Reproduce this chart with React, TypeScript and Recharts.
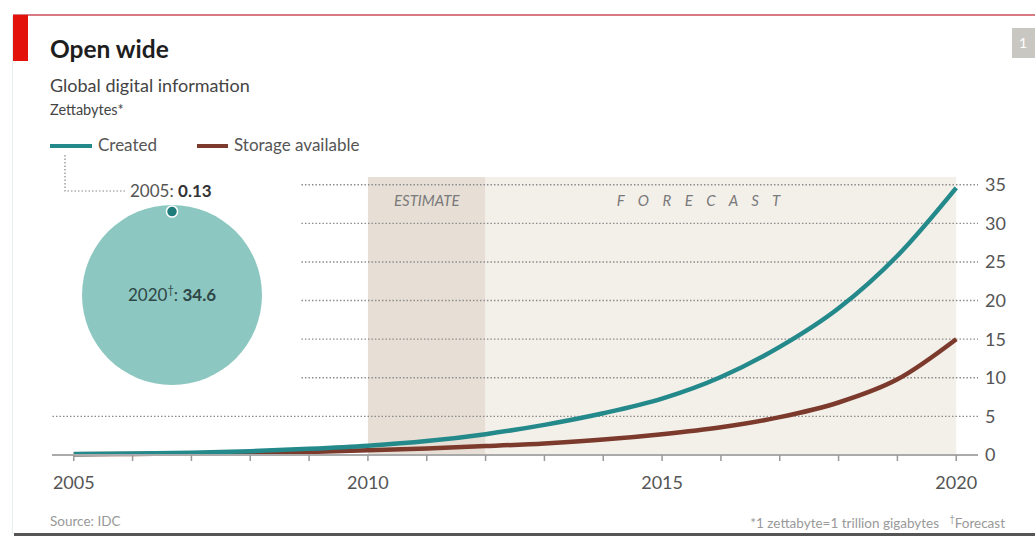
import React from 'react';
import {
  ComposedChart, Line, XAxis, YAxis, ReferenceArea, ReferenceLine,
} from 'recharts';

// values, zettabytes
const years = [2005, 2006, 2007, 2008, 2009, 2010, 2011, 2012, 2013, 2014, 2015, 2016, 2017, 2018, 2019, 2020];
const created = [0.13, 0.2, 0.3, 0.5, 0.8, 1.2, 1.8, 2.7, 3.9, 5.4, 7.3, 10.1, 14.0, 19.0, 25.8, 34.6];
const storage = [0.1, 0.14, 0.2, 0.28, 0.4, 0.6, 0.85, 1.15, 1.5, 2.0, 2.7, 3.6, 4.9, 6.8, 9.8, 15.0];
const yTicks = [0, 5, 10, 15, 20, 25, 30, 35];
const labelledYears = [2005, 2010, 2015, 2020];
const estimateSpan = [2010, 2012];
const forecastSpan = [2012, 2020];
const shortGridTicks = [10, 15, 20, 25, 30, 35];
const firstValue = 0.13;
const lastValue = 34.6;

const X_DOMAIN: [number, number] = [2004.63, 2020.37];
const GRID_START_YEAR = 2008.87;

const TEAL = '#23898a';
const BROWN = '#7b3a2c';
const FONT = 'Lato, "Open Sans", sans-serif';

const data = years.map((y, i) => ({ year: y, created: created[i], storage: storage[i] }));

const gridStroke = { stroke: '#8c8c8c', strokeDasharray: '1.5 2', strokeWidth: 1.4 };

function BubbleInset() {
  const R = 90;
  const r = R * Math.sqrt(firstValue / lastValue);
  const cx = 172;
  const cy = 295;
  return (
    <svg width={1035} height={536} style={{ position: 'absolute', left: 0, top: 0, pointerEvents: 'none' }}>
      <polyline points="65,155 65,191 127,191" fill="none" stroke="#888" strokeWidth={1.2} strokeDasharray="1.5 2" />
      <text x={130} y={197} fontFamily={FONT} fontSize={17} fill="#555">
        2005: <tspan fontWeight={700} fill="#333">{firstValue}</tspan>
      </text>
      <circle cx={cx} cy={cy} r={R} fill="#8cc8c1" />
      <circle cx={cx} cy={cy - R + r + 1} r={r} fill="#1f7c7b" stroke="#fff" strokeWidth={1.5} />
      <text x={cx} y={cy + 6} textAnchor="middle" fontFamily={FONT} fontSize={17} fill="#2f4646">
        2020<tspan fontSize={11} dy={-7}>†</tspan><tspan dy={7}>: </tspan>
        <tspan fontWeight={700}>{lastValue}</tspan>
      </text>
    </svg>
  );
}

export default function App() {
  return (
    <div style={{ position: 'absolute', left: 0, top: 0, width: 1035, height: 536, background: '#fff', fontFamily: FONT, overflow: 'hidden' }}>
      {/* frame */}
      <div style={{ position: 'absolute', left: 13, top: 14, width: 1022, height: 2, background: '#d77a83' }} />
      <div style={{ position: 'absolute', left: 13, top: 15, width: 15, height: 46, background: '#e3120b' }} />
      <div style={{ position: 'absolute', left: 12, top: 16, width: 1, height: 518, background: '#e6eeee' }} />
      <div style={{ position: 'absolute', left: 14, top: 533, width: 1021, height: 3, background: '#555' }} />
      <div style={{ position: 'absolute', left: 1012, top: 28, width: 23, height: 30, background: '#c9c7c1', color: '#fff', fontSize: 14, lineHeight: '30px', paddingLeft: 7 }}>1</div>

      {/* headings */}
      <div style={{ position: 'absolute', left: 50, top: 34, fontSize: 24.5, fontWeight: 700, color: '#1e1e1e' }}>Open wide</div>
      <div style={{ position: 'absolute', left: 50, top: 74, fontSize: 18, color: '#444' }}>Global digital information</div>
      <div style={{ position: 'absolute', left: 50, top: 101, fontSize: 14.5, color: '#444' }}>Zettabytes*</div>

      {/* legend */}
      <div style={{ position: 'absolute', left: 50, top: 144, width: 42, height: 4, background: TEAL }} />
      <div style={{ position: 'absolute', left: 98, top: 134, fontSize: 17, color: '#555' }}>Created</div>
      <div style={{ position: 'absolute', left: 197, top: 144, width: 31, height: 4, background: BROWN }} />
      <div style={{ position: 'absolute', left: 234, top: 134, fontSize: 17, color: '#555' }}>Storage available</div>

      <div style={{ position: 'absolute', left: 0, top: 0 }}>
        <ComposedChart width={1035} height={536} data={data} margin={{ top: 177, right: 5, left: 52, bottom: 51 }}>
          <ReferenceArea x1={estimateSpan[0]} x2={estimateSpan[1]} y1={0} y2={36} fill="#e7dfd5" fillOpacity={1} stroke="none"
            label={{ value: 'ESTIMATE', position: 'insideTop', offset: 18, fill: '#7a7a7a', fontSize: 15, fontStyle: 'italic', fontFamily: FONT }} />
          <ReferenceArea x1={forecastSpan[0]} x2={forecastSpan[1]} y1={0} y2={36} fill="#f3efe9" fillOpacity={1} stroke="none"
            label={{ value: 'F O R E C A S T', position: 'insideTop', offset: 18, dx: -20, fill: '#7a7a7a', fontSize: 15, fontStyle: 'italic', letterSpacing: 5, fontFamily: FONT }} />
          <ReferenceLine y={5} {...gridStroke} />
          {shortGridTicks.map((t) => (
            <ReferenceLine key={t} segment={[{ x: GRID_START_YEAR, y: t }, { x: X_DOMAIN[1], y: t }]} {...gridStroke} />
          ))}
          <XAxis
            dataKey="year"
            type="number"
            domain={X_DOMAIN}
            ticks={years}
            interval={0}
            allowDataOverflow
            height={30}
            tickFormatter={(v: number) => (labelledYears.includes(v) ? String(v) : '')}
            axisLine={{ stroke: '#aaa', strokeWidth: 2 }}
            tickLine={{ stroke: '#999', strokeWidth: 1.5 }}
            tickSize={6}
            tickMargin={15}
            tick={{ fill: '#555', fontSize: 18, fontFamily: FONT }}
          />
          <YAxis
            orientation="right"
            domain={[0, 36]}
            ticks={yTicks}
            interval={0}
            width={52}
            axisLine={false}
            tickLine={false}
            tickSize={0}
            tickMargin={7}
            tick={{ fill: '#555', fontSize: 18, fontFamily: FONT, textAnchor: 'start' }}
          />
          <Line type="monotone" dataKey="storage" stroke={BROWN} strokeWidth={4.5} dot={false} isAnimationActive={false} />
          <Line type="monotone" dataKey="created" stroke={TEAL} strokeWidth={4.5} dot={false} isAnimationActive={false} />
        </ComposedChart>
      </div>

      <BubbleInset />

      {/* footer */}
      <div style={{ position: 'absolute', left: 50, top: 513, fontSize: 13.5, color: '#999' }}>Source: IDC</div>
      <div style={{ position: 'absolute', right: 30, top: 513, fontSize: 13.5, color: '#999', whiteSpace: 'pre' }}>
        *1 zettabyte=1 trillion gigabytes   <sup style={{ fontSize: 9 }}>†</sup>Forecast
      </div>
    </div>
  );
}
